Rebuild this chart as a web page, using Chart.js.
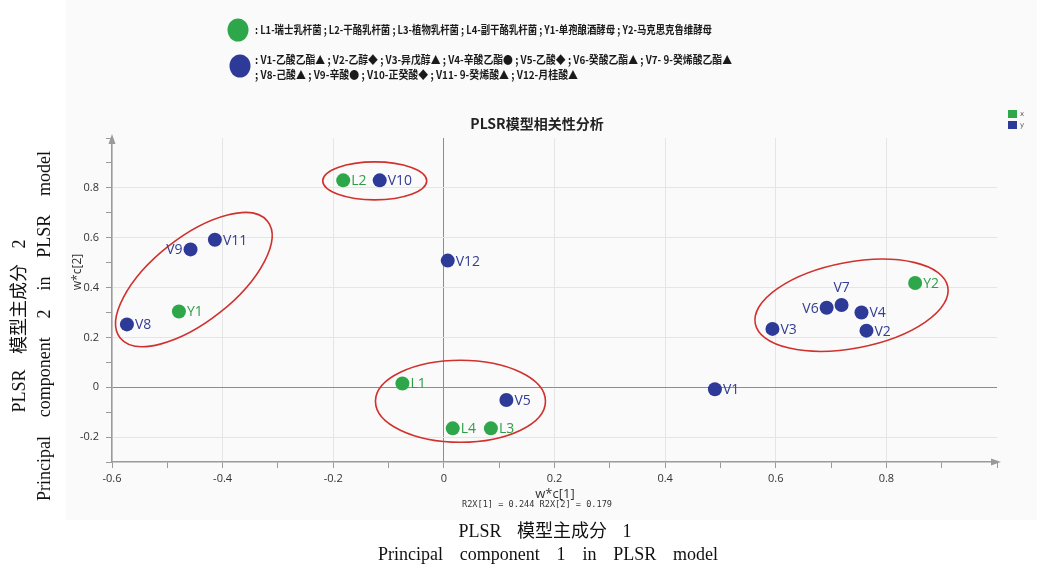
<!DOCTYPE html>
<html>
<head>
<meta charset="utf-8">
<script src="https://cdn.jsdelivr.net/npm/chart.js@4.4.0/dist/chart.umd.min.js"></script>
<style>
html, body { margin: 0; padding: 0; background: #fff; }
</style>
</head>
<body>
<canvas id="plsr" width="1037" height="568"></canvas>
<script>
// loadings w*c[1], w*c[2]
const xNames = ['L1', 'L2', 'L3', 'L4', 'Y1', 'Y2'];
const xComp1 = [-0.075, -0.182, 0.085, 0.016, -0.479, 0.852];
const xComp2 = [0.015, 0.830, -0.165, -0.165, 0.304, 0.418];

const yNames = ['V1', 'V2', 'V3', 'V4', 'V5', 'V6', 'V7', 'V8', 'V9', 'V10', 'V11', 'V12'];
const yComp1 = [0.490, 0.764, 0.594, 0.755, 0.113, 0.692, 0.719, -0.573, -0.458, -0.116, -0.414, 0.007];
const yComp2 = [-0.008, 0.227, 0.234, 0.300, -0.051, 0.319, 0.330, 0.252, 0.553, 0.830, 0.592, 0.508];

const legendGreen = ': L1-瑞士乳杆菌 ; L2-干酪乳杆菌 ; L3-植物乳杆菌 ; L4-副干酪乳杆菌 ; Y1-单孢酿酒酵母 ; Y2-马克思克鲁维酵母';
const legendBlue1 = ': V1-乙酸乙酯▲ ; V2-乙醇◆ ; V3-异戊醇▲ ; V4-辛酸乙酯● ; V5-乙酸◆ ; V6-癸酸乙酯▲ ; V7- 9-癸烯酸乙酯▲';
const legendBlue2 = '; V8-己酸▲ ; V9-辛酸● ; V10-正癸酸◆ ; V11- 9-癸烯酸▲ ; V12-月桂酸▲';

const GREEN = '#2ea74a';
const BLUE = '#2e3a98';
const RED = '#d0312d';

// label side for crowded points (default: right)
const labelSide = { V9: 'left', V6: 'left', V7: 'top' };

// red group ellipses: centre in data units, radii in px, tilt in degrees
const rings = [
    { cx: -0.125, cy: 0.828, rx: 52, ry: 19, tilt: 0 },
    { cx: 0.030, cy: -0.056, rx: 85, ry: 41, tilt: 0 },
    { cx: -0.452, cy: 0.432, rx: 94, ry: 42, tilt: 38.4 },
    { cx: 0.737, cy: 0.329, rx: 98, ry: 43, tilt: 10.8 }
];

function tickText(v) {
    const k = Math.round(v * 10);
    if (k % 2 !== 0 || k === 10) return '';
    return k === 0 ? '0' : (k / 10).toFixed(1);
}

function gridColor(v) {
    const k = Math.round(v * 10);
    if (k === 0) return '#8c8c8c';
    if (k === 10) return 'rgba(0,0,0,0)';
    return k % 2 === 0 ? '#e5e5e5' : 'rgba(0,0,0,0)';
}

function fitText(c, text, x, y, width) {
    const w = c.measureText(text).width;
    c.save();
    c.translate(x, y);
    c.scale(width / w, 1);
    c.fillText(text, 0, 0);
    c.restore();
}

function spreadText(c, words, cx, cy, width) {
    let total = 0;
    words.forEach(w => total += c.measureText(w).width);
    const gap = (width - total) / (words.length - 1);
    let x = cx - width / 2;
    c.textAlign = 'left';
    words.forEach(w => {
        c.fillText(w, x, cy);
        x += c.measureText(w).width + gap;
    });
}

const decor = {
    id: 'decor',
    beforeDraw(chart) {
        const c = chart.ctx;
        c.save();
        c.fillStyle = '#fafafa';
        c.fillRect(66, 0, chart.width - 66, 520);
        c.restore();
    },
    afterDraw(chart) {
        const c = chart.ctx;
        const xs = chart.scales.x, ys = chart.scales.y;
        const area = chart.chartArea;
        c.save();

        // axis arrows
        c.fillStyle = '#9a9a9a';
        c.beginPath();
        c.moveTo(area.left, area.top - 4);
        c.lineTo(area.left - 3.5, area.top + 6);
        c.lineTo(area.left + 3.5, area.top + 6);
        c.fill();
        c.beginPath();
        c.moveTo(area.right + 4, area.bottom);
        c.lineTo(area.right - 6, area.bottom - 3.5);
        c.lineTo(area.right - 6, area.bottom + 3.5);
        c.fill();

        // group ellipses
        c.strokeStyle = RED;
        c.lineWidth = 1.6;
        rings.forEach(r => {
            c.beginPath();
            c.ellipse(xs.getPixelForValue(r.cx), ys.getPixelForValue(r.cy), r.rx, r.ry, -r.tilt * Math.PI / 180, 0, Math.PI * 2);
            c.stroke();
        });

        // point labels
        c.font = '14px "Open Sans", "Noto Sans", sans-serif';
        c.textBaseline = 'middle';
        const names = [xNames, yNames];
        const cols = ['#2e9e46', '#333d92'];
        chart.data.datasets.forEach((ds, i) => {
            chart.getDatasetMeta(i).data.forEach((pt, j) => {
                const n = names[i][j];
                const side = labelSide[n] || 'right';
                c.fillStyle = cols[i];
                if (side === 'left') {
                    c.textAlign = 'right';
                    c.fillText(n, pt.x - 8, pt.y + 1);
                } else if (side === 'top') {
                    c.textAlign = 'center';
                    c.fillText(n, pt.x, pt.y - 17);
                } else {
                    c.textAlign = 'left';
                    c.fillText(n, pt.x + 8, pt.y + 1);
                }
            });
        });

        // title
        c.fillStyle = '#222';
        c.textAlign = 'center';
        c.font = 'bold 14px "Noto Sans CJK SC", sans-serif';
        c.fillText('PLSR模型相关性分析', 537, 124);

        // small series legend, top right
        c.font = '7px "DejaVu Sans", sans-serif';
        c.textAlign = 'left';
        chart.data.datasets.forEach((ds, i) => {
            c.fillStyle = ds.backgroundColor;
            c.fillRect(1008, 110 + i * 11, 9, 8);
            c.fillStyle = '#555';
            c.fillText(ds.label, 1020, 114 + i * 11);
        });

        // inner axis titles
        c.fillStyle = '#333';
        c.textAlign = 'center';
        c.font = '13px "Open Sans", sans-serif';
        c.fillText('w*c[1]', 555, 494);
        c.font = '8.5px "DejaVu Sans Mono", monospace';
        fitText(c, 'R2X[1] = 0.244 R2X[2] = 0.179', 537, 505, 150);
        c.save();
        c.translate(78, 272);
        c.rotate(-Math.PI / 2);
        c.font = '12px "Open Sans", sans-serif';
        c.fillText('w*c[2]', 0, 0);
        c.restore();

        // top legend
        c.fillStyle = GREEN;
        c.beginPath();
        c.ellipse(238, 30, 10.5, 11.5, 0, 0, Math.PI * 2);
        c.fill();
        c.fillStyle = BLUE;
        c.beginPath();
        c.ellipse(240, 66, 10.5, 11.5, 0, 0, Math.PI * 2);
        c.fill();
        c.fillStyle = '#1a1a1a';
        c.font = 'bold 11px "Noto Sans CJK SC", sans-serif';
        c.textAlign = 'left';
        fitText(c, legendGreen, 255, 30, 457);
        fitText(c, legendBlue1, 255, 60, 477);
        fitText(c, legendBlue2, 255, 75, 323);

        // outer (paper) axis titles
        c.fillStyle = '#111';
        c.font = '18px "Liberation Serif", "Noto Sans CJK SC", serif';
        spreadText(c, ['PLSR', '模型主成分', '1'], 545, 532, 173);
        spreadText(c, ['Principal', 'component', '1', 'in', 'PLSR', 'model'], 548, 555, 340);
        c.save();
        c.translate(20, 326);
        c.rotate(-Math.PI / 2);
        spreadText(c, ['PLSR', '模型主成分', '2'], 0, 0, 173);
        c.translate(0, 25);
        spreadText(c, ['Principal', 'component', '2', 'in', 'PLSR', 'model'], 0, 0, 350);
        c.restore();

        c.restore();
    }
};

const tickFont = { family: '"Open Sans", "Noto Sans", sans-serif', size: 11 };

new Chart(document.getElementById('plsr'), {
    type: 'scatter',
    data: {
        datasets: [
            {
                label: 'x',
                data: xNames.map((n, i) => ({ x: xComp1[i], y: xComp2[i] })),
                backgroundColor: GREEN,
                borderWidth: 0,
                pointRadius: 7,
                pointHoverRadius: 7
            },
            {
                label: 'y',
                data: yNames.map((n, i) => ({ x: yComp1[i], y: yComp2[i] })),
                backgroundColor: BLUE,
                borderWidth: 0,
                pointRadius: 7,
                pointHoverRadius: 7
            }
        ]
    },
    options: {
        responsive: false,
        animation: false,
        devicePixelRatio: 1,
        layout: { padding: { top: 138, right: 40, left: 0, bottom: 0 } },
        plugins: {
            legend: { display: false },
            tooltip: { enabled: false }
        },
        scales: {
            x: {
                type: 'linear',
                min: -0.6,
                max: 1.0,
                afterFit: s => { s.height = 106; },
                border: { color: '#9a9a9a', width: 1.5 },
                grid: {
                    color: ctx => gridColor(ctx.tick.value),
                    tickColor: '#9a9a9a',
                    tickLength: 6
                },
                ticks: {
                    stepSize: 0.1,
                    autoSkip: false,
                    maxRotation: 0,
                    padding: 4,
                    color: '#333',
                    font: tickFont,
                    callback: v => tickText(v)
                }
            },
            y: {
                type: 'linear',
                min: -0.3,
                max: 1.0,
                afterFit: s => { s.width = 112; },
                border: { color: '#9a9a9a', width: 1.5 },
                grid: {
                    color: ctx => gridColor(ctx.tick.value),
                    tickColor: '#9a9a9a',
                    tickLength: 6
                },
                ticks: {
                    stepSize: 0.1,
                    autoSkip: false,
                    padding: 7,
                    color: '#333',
                    font: tickFont,
                    callback: v => tickText(v)
                }
            }
        }
    },
    plugins: [decor]
});
</script>
</body>
</html>
